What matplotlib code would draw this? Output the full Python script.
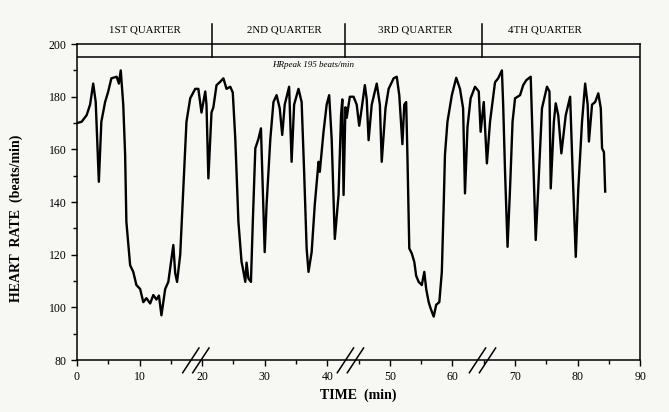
import matplotlib
matplotlib.use('Agg')
import matplotlib.pyplot as plt
from matplotlib.ticker import MultipleLocator

# heart rate trace
time_min = [0.0, 0.75, 1.55, 2.1, 2.6, 3.0, 3.5, 3.9, 4.5, 5.0, 5.5, 6.35, 6.7, 7.0, 7.4, 7.7, 7.9,
            8.5, 9.0, 9.5, 10.1, 10.6, 11.1, 11.7, 12.2, 12.7, 13.1, 13.5, 14.1, 14.6, 15.1, 15.4,
            15.7, 16.0, 16.5, 17.0, 17.5, 18.1, 18.9, 19.4, 19.9, 20.5, 20.7, 21.0, 21.5, 21.8,
            22.3, 22.9, 23.4, 23.9, 24.5, 24.9, 25.3, 25.8, 26.3, 26.5, 26.9, 27.1, 27.4, 27.8,
            28.1, 28.5, 29.0, 29.4, 29.7, 30.0, 30.3, 30.9, 31.4, 31.9, 32.4, 32.8, 33.2, 33.9,
            34.3, 34.7, 35.4, 35.9, 36.3, 36.7, 37.0, 37.5, 38.0, 38.6, 38.8, 39.4, 39.9, 40.3,
            40.7, 41.2, 41.8, 42.2, 42.4, 42.6, 42.9, 43.1, 43.6, 44.2, 44.7, 45.1, 45.5, 46.0,
            46.3, 46.6, 47.1, 47.9, 48.4, 48.7, 49.3, 49.8, 50.6, 51.1, 51.5, 52.0, 52.3, 52.6,
            52.8, 53.1, 53.5, 53.9, 54.2, 54.6, 55.1, 55.5, 55.8, 56.2, 56.5, 57.0, 57.4, 57.9,
            58.3, 58.6, 58.8, 59.2, 59.9, 60.6, 61.2, 61.7, 62.0, 62.4, 62.9, 63.6, 64.2, 64.5,
            65.0, 65.5, 66.0, 66.8, 67.3, 67.9, 68.1, 68.4, 68.8, 69.2, 69.6, 70.0, 70.8, 71.3,
            71.8, 72.5, 72.8, 73.3, 73.7, 74.3, 75.1, 75.5, 75.7, 76.2, 76.5, 76.9, 77.4, 78.1,
            78.8, 79.2, 79.7, 80.1, 80.7, 81.2, 81.6, 81.8, 82.3, 82.8, 83.3, 83.7, 83.9, 84.2,
            84.4]
heart_rate = [170, 170.5, 173, 177, 185, 178, 147.7, 170.5, 178, 182, 187, 187.6, 185, 190, 177, 158, 132.5,
              116, 113.5, 108.5, 107, 102, 103.5, 101.5, 104.7, 103, 104.5, 97, 107, 109.7, 118.6, 123.7,
              113, 109.7, 120, 145, 170.5, 179.4, 183, 183, 174, 182, 177, 149, 174, 176,
              184.4, 185.7, 187, 183, 183.8, 181.6, 164, 132.5, 117.3, 115, 109.7, 117, 111, 109.7,
              132.5, 160.4, 164, 168, 145, 121, 139, 164, 178, 180.6, 175.6, 165.5, 177, 183.8,
              155.3, 177, 183, 178, 151.5, 122.4, 113.5, 121, 139, 155.3, 151.5, 166.7, 177, 180.6,
              164, 126, 142.7, 173, 179, 142.7, 176, 172, 180, 180, 177, 169, 175.6, 184.4,
              179, 163.5, 177, 185, 177, 155.3, 175.6, 183, 187, 187.6, 180.6, 162, 177, 178,
              158, 122.4, 120.5, 117.3, 112, 109.7, 108.5, 113.5, 107, 102, 99.7, 96.5, 101, 102,
              113.5, 139, 158, 170.5, 180.6, 187.2, 183, 175.6, 143.3, 168.5, 179.4, 183.8, 182, 166.7,
              178, 154.7, 170.5, 185.5, 187, 190, 177, 151.5, 123, 145.2, 170.5, 179.4, 180.6, 184.4,
              186.3, 187.6, 164, 125.6, 145, 175.6, 183.8, 182, 145.2, 170.5, 177.5, 173, 158.5, 173,
              180, 151.5, 119.2, 145, 170.5, 185, 177, 163, 177, 178, 181.3, 175.6, 160.4, 159,
              144]

quarter_names = ['1ST QUARTER', '2ND QUARTER', '3RD QUARTER', '4TH QUARTER']
quarter_label_x = [10.9, 33.2, 54.0, 74.8]
quarter_ends = [21.6, 42.8, 64.7]
break_x = [19.0, 43.7, 64.8]
hr_peak = 195

plt.rcParams['font.family'] = ['Liberation Serif', 'DejaVu Serif']
paper = '#f7f7f4'

fig = plt.figure(figsize=(6.69, 4.12), dpi=100, facecolor=paper)
ax = fig.add_axes([0.115, 0.126, 0.842, 0.767], facecolor=paper)

ax.plot(time_min, heart_rate, color='black', lw=1.7, solid_joinstyle='round')

ax.set_xlim(0, 90)
ax.set_ylim(80, 200)
ax.xaxis.set_major_locator(MultipleLocator(10))
ax.xaxis.set_minor_locator(MultipleLocator(5))
ax.yaxis.set_major_locator(MultipleLocator(20))
ax.yaxis.set_minor_locator(MultipleLocator(10))
ax.tick_params(which='both', direction='out', width=1.0, labelsize=8.5, color='black')
ax.tick_params(which='major', length=4)
ax.tick_params(which='minor', length=3)
for s in ax.spines.values():
    s.set_linewidth(1.1)

ax.set_xlabel('TIME  (min)', fontsize=10, fontweight='bold', labelpad=4)
ax.set_ylabel('HEART  RATE  (beats/min)', fontsize=10, fontweight='bold', labelpad=12)
ax.yaxis.set_label_coords(-0.095, 0.45)

# HR peak band at the top
ax.axhline(hr_peak, color='black', lw=1.1)
ax.text(37.7, 192.0, 'HRpeak 195 beats/min', fontsize=6.5, style='italic', ha='center', va='center')

# quarter dividers and labels above the plot
for q in quarter_ends:
    ax.plot([q, q], [hr_peak, 207.5], color='black', lw=1.1, clip_on=False)
for name, qx in zip(quarter_names, quarter_label_x):
    ax.text(qx, 205.3, name, fontsize=7.8, ha='center', va='center')

# axis break marks
for b in break_x:
    for off in [-0.8, 0.8]:
        ax.plot([b + off - 1.3, b + off + 1.3], [75.2, 84.6], color='black', lw=1.1, clip_on=False)

fig.savefig('out.png', dpi=100, facecolor=paper)
